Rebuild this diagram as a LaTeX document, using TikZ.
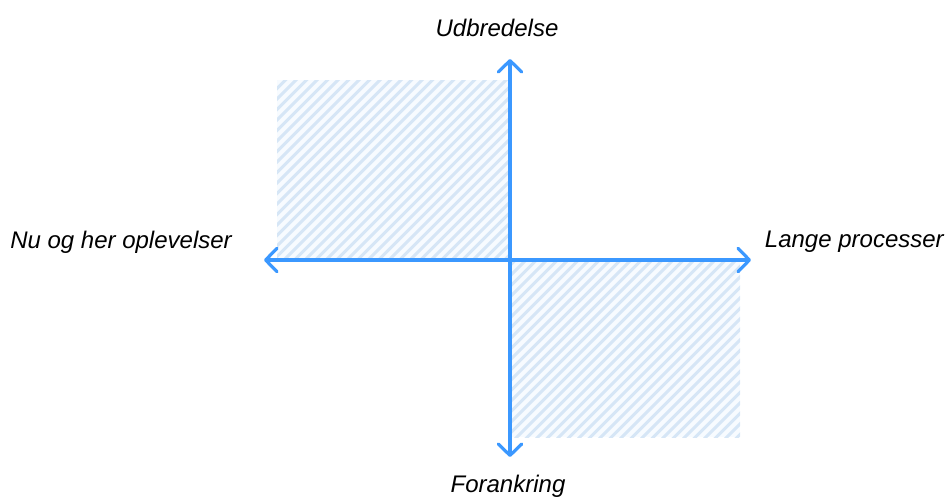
\documentclass[tikz,border=0pt]{standalone}
\usepackage{fontspec}
\setmainfont{Liberation Sans}
\usepackage{tikz}
\usetikzlibrary{arrows.meta,positioning}
\definecolor{axisblue}{RGB}{59,152,255}
\definecolor{hatchblue}{RGB}{214,230,246}
\definecolor{hatchfill}{RGB}{247,251,255}

\begin{document}
\begin{tikzpicture}[
    x=0.75pt, y=-0.75pt,
    axis/.style={draw=axisblue, line width=2.4pt, line cap=round,
        arrows={-Straight Barb[length=8.5pt, width=17.5pt, round]}},
    hatchline/.style={draw=hatchblue, line width=2.2pt},
    axislabel/.style={font=\fontsize{18}{22}\selectfont\itshape, inner sep=0pt}
]
    \useasboundingbox (0,0) rectangle (948,497);

    % hatched quadrants
    \begin{scope}
        \clip (277,80) rectangle (508,260);
        \fill[hatchfill] (277,80) rectangle (508,260);
        \foreach \d in {92,102.5,...,515}
            \draw[hatchline] (\d,263) -- (\d+186,77);
    \end{scope}
    \begin{scope}
        \clip (512,260) rectangle (740,437);
        \fill[hatchfill] (512,260) rectangle (740,437);
        \foreach \d in {325,335.5,...,745}
            \draw[hatchline] (\d,440) -- (\d+183,257);
    \end{scope}

    % axes
    \coordinate (o) at (510,260);
    \coordinate (top) at (510,59);
    \coordinate (bottom) at (510,457);
    \coordinate (left) at (264,260);
    \coordinate (right) at (751,260);

    \draw[axis] (o) -- (top);
    \draw[axis] (o) -- (bottom);
    \draw[axis] (o) -- (left);
    \draw[axis] (o) -- (right);

    % labels
    \node[axislabel] (spread) at (497,28) {Udbredelse};
    \node[axislabel] (anchor) at (508,486) {Forankring};
    \node[axislabel, anchor=west] (now) at (10,242) {Nu og her oplevelser};
    \node[axislabel, anchor=east] (long) at (944,242) {Lange processer};
\end{tikzpicture}
\end{document}
